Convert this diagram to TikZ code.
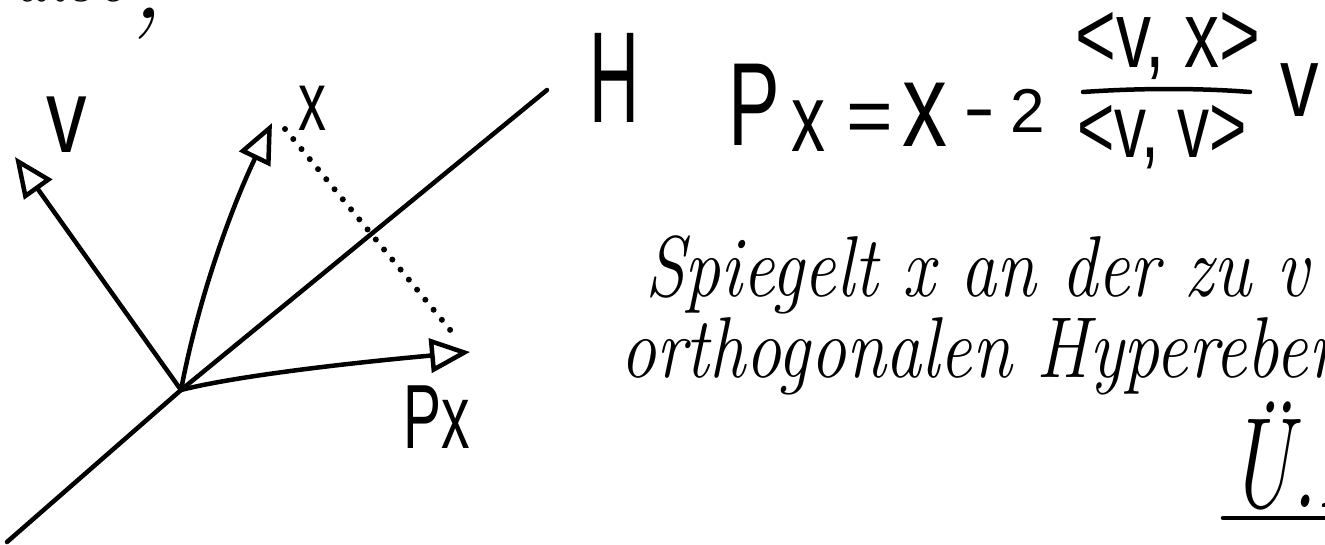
\documentclass[tikz,border=0pt]{standalone}
\usepackage{fontspec}
\newfontfamily\printfont{Liberation Sans}
\usetikzlibrary{arrows.meta}
\tikzset{
  ink/.style={line width=4.5pt, line cap=round, line join=round, black},
  vecarrow/.style={ink, -{Triangle[open, length=40pt, width=34pt, line width=4.5pt]}},
  dots/.style={line width=6pt, line cap=round, dash pattern=on 0pt off 13pt},
  lbl/.style={inner sep=0pt, font=\printfont\fontsize{#1}{#1}\selectfont},
  lbl/.default=80,
  cursive/.style={inner sep=0pt, anchor=base west, font=\itshape\fontsize{#1}{#1}\selectfont},
  cursive/.default=72
}
\begin{document}
\begin{tikzpicture}[x=1pt,y=-1pt]
\useasboundingbox (0,0) rectangle (1325,544);
\clip (0,0) rectangle (1325,544);
\fill[white] (0,0) rectangle (1325,544);

% cut-off text at the top left
\node[cursive, anchor=base east] (prev) at (164,1) {also\raisebox{-17pt}{\scalebox{1.5}{,}}};

% geometry
\coordinate (O) at (181,390);
\coordinate (vtip) at (15,157);
\coordinate (xtip) at (272,123);
\coordinate (pxtip) at (470,352);
\coordinate (Htop) at (547,90);
\coordinate (Hbot) at (7,542);
\coordinate (xd) at (285,129);
\coordinate (pxd) at (456,337);

\draw[ink] (Hbot) -- (O) -- (Htop);
\draw[vecarrow] (O) -- (vtip);
\draw[vecarrow] (O) .. controls (200,290) and (235,200) .. (xtip);
\draw[vecarrow] (O) .. controls (240,375) and (360,362) .. (pxtip);
\draw[dots] (xd) -- (pxd);

% labels
\node[lbl=81, anchor=base west] (vlabel) at (46,152) {\scalebox{1}[1.3]{v}};
\node[lbl=70, anchor=base west] (xlabel) at (298,130) {\scalebox{0.8}[1.2]{x}};
\node[lbl=76, anchor=base west] (pxlabel) at (403,448) {\scalebox{0.75}[1.2]{Px}};
\node[lbl=96, anchor=base west] (hlabel) at (589,122) {\scalebox{0.72}[1.35]{H}};

% formula
\node[lbl=91, anchor=base west] (fP) at (728,145) {\scalebox{0.85}[1.3]{P}};
\node[lbl=80, anchor=base west] (fPx) at (791,151) {\scalebox{0.85}[1.2]{x}};
\node[lbl=80] (feq) at (870,124) {=};
\node[lbl=100, anchor=base west] (fx) at (902,146) {\scalebox{0.9}[1.2]{x}};
\node[lbl=80] (fminus) at (980,125) {\scalebox{0.6}[1]{−}};
\node[lbl=62, anchor=base west] (ftwo) at (1010,132) {2};
\coordinate (barL) at (1083,92);
\coordinate (barR) at (1250,92);
\draw[ink] (barL) .. controls (1140,88) and (1200,88) .. (barR);
\node[lbl=70] (fnum) at (1168,46) {\scalebox{1}[1.35]{<v, x>}};
\node[lbl=64] (fden) at (1162,137) {\scalebox{1}[1.4]{<v, v>}};
\node[lbl=77, anchor=base west] (fv) at (1280,116) {\scalebox{1}[1.3]{v}};

% explanation
\node[cursive] (line2) at (645,296) {\scalebox{1}[1.2]{Spiegelt x an der zu v}};
\node[cursive] (line3) at (620,377) {\scalebox{1}[1.2]{orthogonalen Hyperebene}};
\node[cursive=92] (ua) at (1228,507) {\scalebox{0.95}[1.4]{Ü.A}};
\coordinate (ulL) at (1223,518);
\coordinate (ulR) at (1330,518);
\draw[ink] (ulL) -- (ulR);
\end{tikzpicture}
\end{document}
